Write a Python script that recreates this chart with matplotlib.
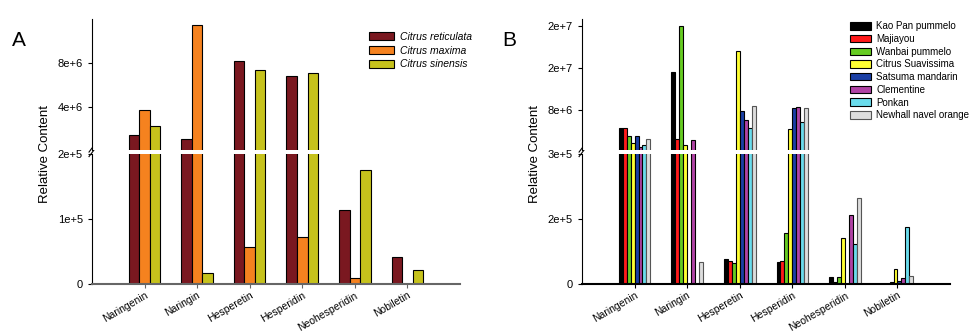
import numpy as np
import matplotlib
matplotlib.use('Agg')
import matplotlib.pyplot as plt
from matplotlib.patches import Patch

plt.rcParams['font.family'] = ['Liberation Sans', 'DejaVu Sans']

compounds = ['Naringenin', 'Naringin', 'Hesperetin', 'Hesperidin', 'Neohesperidin', 'Nobiletin']

# panel A
species = ['Citrus reticulata', 'Citrus maxima', 'Citrus sinensis']
reticulata = [1.53e6, 1.2e6, 8.12e6, 6.85e6, 1.14e5, 4.1e4]
maxima = [3.75e6, 1.14e7, 5.7e4, 7.3e4, 9.7e3, 500]
sinensis = [2.33e6, 1.7e4, 7.32e6, 7.12e6, 1.76e5, 2.1e4]
colors_a = ['#7a1820', '#f5821f', '#c6c21c']

# panel B
varieties = ['Kao Pan pummelo', 'Majiayou', 'Wanbai pummelo', 'Citrus Suavissima',
             'Satsuma mandarin', 'Clementine', 'Ponkan', 'Newhall navel orange']
kao_pan = [4.44e6, 1.51e7, 5.8e4, 5.0e4, 1.6e4, 0]
majiayou = [4.44e6, 2.34e6, 5.3e4, 5.3e4, 4e3, 0]
wanbai = [3.05e6, 2.4e7, 4.8e4, 1.17e5, 1.6e4, 4e3]
suavissima = [1.71e6, 1.2e6, 1.92e7, 4.38e6, 1.06e5, 3.4e4]
satsuma = [2.91e6, 0, 7.73e6, 8.38e6, 0, 7e3]
clementine = [0.88e6, 2.28e6, 6.02e6, 8.57e6, 1.59e5, 1.3e4]
ponkan = [1.33e6, 0, 4.57e6, 5.71e6, 9.2e4, 1.31e5]
newhall = [2.48e6, 5.0e4, 8.69e6, 8.25e6, 1.99e5, 1.8e4]
colors_b = ['#000000', '#ff1a1a', '#66cc22', '#ffff33', '#1a3fa5', '#b043a5', '#6adcec', '#dddddd']

# axis breaks and ticks
lo_a, hi_a = (0, 2e5), (2e5, 1.19e7)
lo_ticks_a, hi_ticks_a = [0, 1e5, 2e5], [4e6, 8e6]
lo_b, hi_b = (0, 3e5), (3e5, 2.53e7)
lo_ticks_b, hi_ticks_b = [0, 1.5e5, 3e5], [8e6, 1.6e7, 2.4e7]


def fmt(v):
    if v == 0:
        return '0'
    m, e = ('%.0e' % v).split('e')
    return '%se+%d' % (m, int(e))


fig = plt.figure(figsize=(9.71, 3.35), dpi=100)


def panel(left, series, colors, names, width, lo, hi, lo_ticks, hi_ticks, letter, xcol, leg):
    ax_lo = fig.add_axes([left, 0.1522, 0.379, 0.3881])
    ax_hi = fig.add_axes([left, 0.5522, 0.379, 0.3911])
    x = np.arange(len(compounds))
    n = len(series)
    for ax in (ax_lo, ax_hi):
        for i, (vals, c) in enumerate(zip(series, colors)):
            ec = '#555555' if c == '#dddddd' else 'black'
            vals = np.asarray(vals)
            if ax is ax_hi:
                vals = np.where(vals > hi[0], vals, 0)
            ax.bar(x + (i - (n - 1) / 2) * width, vals, width, color=c,
                   edgecolor=ec, linewidth=0.8)
        ax.set_xlim(-1, 6)
        ax.spines['top'].set_visible(False)
        ax.spines['right'].set_visible(False)
        ax.tick_params(axis='y', labelsize=8, length=3, width=0.8)
    ax_lo.set_ylim(*lo)
    ax_hi.set_ylim(*hi)
    ax_lo.set_yticks(lo_ticks)
    ax_lo.set_yticklabels([fmt(v) for v in lo_ticks])
    ax_hi.set_yticks(hi_ticks)
    ax_hi.set_yticklabels([fmt(v) for v in hi_ticks])
    ax_hi.spines['bottom'].set_visible(False)
    ax_hi.set_xticks([])
    ax_lo.spines['bottom'].set_color(xcol)
    ax_lo.spines['bottom'].set_linewidth(1.5)
    ax_lo.set_xticks(x)
    ax_lo.set_xticklabels(compounds, rotation=30, ha='right', rotation_mode='anchor', fontsize=7.5)
    ax_lo.tick_params(axis='x', length=3, pad=1.5, color=xcol)
    # break marks
    for dy in (0.0, 0.035):
        ax_lo.plot([-0.008, 0.008], [0.98 + dy, 1.04 + dy], transform=ax_lo.transAxes,
                   color='black', lw=0.8, clip_on=False)
    fig.text(left - 0.048, 0.54, 'Relative Content', rotation=90, fontsize=9.5,
             ha='center', va='center')
    fig.text(left - 0.082, 0.88, letter, fontsize=15, ha='left', va='center')
    handles = [Patch(facecolor=c, edgecolor='#555555' if c == '#dddddd' else 'black', lw=0.8)
               for c in colors]
    ax_hi.legend(handles, names, frameon=False, **leg)


panel(0.0947, [reticulata, maxima, sinensis], colors_a, species, 0.2,
      lo_a, hi_a, lo_ticks_a, hi_ticks_a, 'A', '#666666',
      dict(loc='upper left', bbox_to_anchor=(0.74, 0.94),
           prop={'style': 'italic', 'size': 7.5}, handlelength=2.4, handleheight=0.8,
           labelspacing=0.35, handletextpad=0.5, borderpad=0))

panel(0.5994, [kao_pan, majiayou, wanbai, suavissima, satsuma, clementine, ponkan, newhall],
      colors_b, varieties, 0.075, lo_b, hi_b, lo_ticks_b, hi_ticks_b, 'B', 'black',
      dict(loc='upper left', bbox_to_anchor=(0.715, 1.02), fontsize=7,
           handlelength=2.2, handleheight=0.8, labelspacing=0.28, handletextpad=0.5,
           borderpad=0))

fig.savefig('out.png', dpi=100)
